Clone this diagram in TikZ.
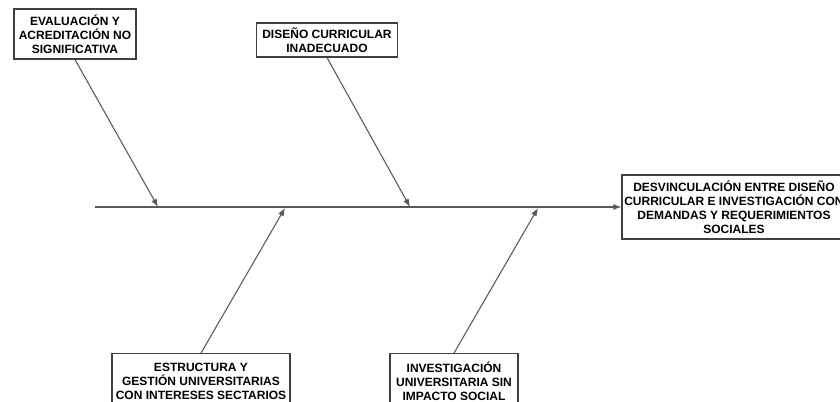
\documentclass[tikz,border=0pt]{standalone}
\usepackage{fontspec}
\setmainfont{Liberation Sans}
\usetikzlibrary{arrows.meta}
\begin{document}
\begin{tikzpicture}[x=0.75pt,y=-0.75pt]
\tikzset{causa/.style={draw=black!75, line width=0.9pt, fill=white, align=center, inner sep=1pt,
  font=\bfseries\fontsize{9}{10.5}\selectfont},
  espina/.style={draw=black!65, line width=0.8pt},
  flecha/.style={espina, -{Latex[length=6pt,width=4.5pt]}}}
\useasboundingbox (0,0) rectangle (840,402);
\node[causa, minimum width=91.5pt, minimum height=37.5pt] (C1) at (75,34) {EVALUACIÓN Y\\ACREDITACIÓN NO\\SIGNIFICATIVA};
\node[causa, minimum width=105.75pt, minimum height=25.5pt] (C2) at (327,40) {DISEÑO CURRICULAR\\INADECUADO};
\node[causa, minimum width=133.5pt, minimum height=41pt] (C3) at (201,381) {ESTRUCTURA Y\\GESTIÓN UNIVERSITARIAS\\CON INTERESES SECTARIOS};
\node[causa, minimum width=96pt, minimum height=41pt] (C4) at (454,381) {INVESTIGACIÓN\\UNIVERSITARIA SIN\\IMPACTO SOCIAL};
\node[causa, minimum width=168pt, minimum height=48pt] (E) at (734,207) {DESVINCULACIÓN ENTRE DISEÑO\\CURRICULAR E INVESTIGACIÓN CON\\DEMANDAS Y REQUERIMIENTOS\\SOCIALES};
\coordinate (S0) at (95,207);
\coordinate (P1) at (158,207);
\coordinate (P2) at (410,207);
\coordinate (P3) at (285,208);
\coordinate (P4) at (538,208);
\draw[flecha] (S0) -- (E.west);
\draw[flecha] (C1.south) -- (P1);
\draw[flecha] (C2.south) -- (P2);
\draw[flecha] (C3.north) -- (P3);
\draw[flecha] (C4.north) -- (P4);
\end{tikzpicture}
\end{document}
